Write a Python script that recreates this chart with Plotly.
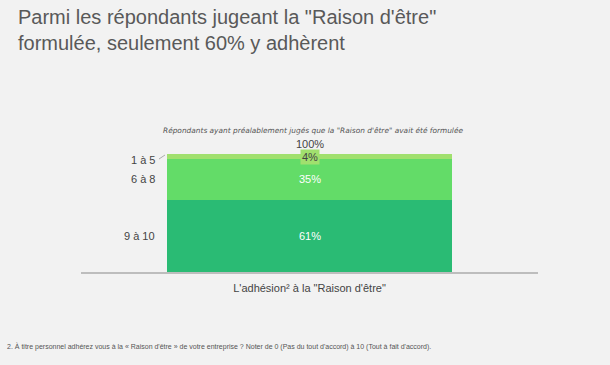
import plotly.graph_objects as go

# ---- data ----
category = ["L'adhésion² à la \"Raison d'être\""]
segments = ["9 à 10", "6 à 8", "1 à 5"]
values = [61, 35, 4]
colors = ["#2abb74", "#63dc68", "#a1e06e"]
total_label = "100%"

title_lines = ["Parmi les répondants jugeant la \"Raison d'être\"",
               "formulée, seulement 60% y adhèrent"]
subtitle = "Répondants ayant préalablement jugés que la \"Raison d'être\" avait été formulée"
footnote = ("2. À titre personnel adhérez vous à la « Raison d'être » de votre entreprise ? "
            "Noter de 0 (Pas du tout d'accord) à 10 (Tout à fait d'accord).")

BG = "#f2f2f2"
FONT = "Liberation Sans, Arial"
W, H = 610, 365
L, R, T, B = 81, 72, 154, 93
pw, ph = W - L - R, H - T - B
def px(x): return (x - L) / pw
def py(y): return (H - B - y) / ph

fig = go.Figure()
for name, v, c in zip(segments, values, colors):
    fig.add_trace(go.Bar(x=category, y=[v], name=name, marker=dict(color=c, line=dict(width=0)),
                         width=0.624, showlegend=False, hoverinfo="skip"))

cum = 0
for i, (name, v) in enumerate(zip(segments, values)):
    mid = cum + v / 2
    cum += v
    if v >= 10:
        fig.add_annotation(x=category[0], y=mid, xref="x", yref="y", text=f"{v}%", showarrow=False,
                           font=dict(family=FONT, size=11, color="white"))
    else:
        fig.add_annotation(x=category[0], y=mid, xref="x", yref="y", text=f"{v}%", showarrow=False,
                           bgcolor=colors[i], borderpad=1, yshift=-1,
                           font=dict(family=FONT, size=11, color="#444"))
    fig.add_annotation(x=px(157), y=mid, xref="paper", yref="y", text=name, showarrow=False,
                       xanchor="right", yshift=(-4 if v < 10 else 0),
                       font=dict(family=FONT, size=11, color="#444"))
fig.add_annotation(x=category[0], y=cum, xref="x", yref="y", text=total_label, showarrow=False,
                   yanchor="bottom", yshift=2, font=dict(family=FONT, size=11, color="#444"))

for txt, yc in zip(title_lines, [17, 43]):
    fig.add_annotation(x=px(16), y=py(yc), xref="paper", yref="paper", xanchor="left",
                       yanchor="middle", text=txt, showarrow=False,
                       font=dict(family=FONT, size=20, color="#595959"))

fig.add_annotation(x=px(313), y=py(124), xref="paper", yref="paper", showarrow=False,
                   text=f"<i>{subtitle}</i>", font=dict(family="DejaVu Sans", size=7.4, color="#555"))

fig.add_annotation(x=px(5), y=py(352.5), xref="paper", yref="paper", xanchor="left",
                   text=footnote, showarrow=False, font=dict(family=FONT, size=7, color="#555"))

fig.add_shape(type="line", xref="paper", yref="paper",
              x0=px(159), y0=py(159), x1=px(165), y1=py(155),
              line=dict(color="#999", width=0.8))

fig.update_layout(
    width=W, height=H,
    paper_bgcolor=BG, plot_bgcolor=BG,
    margin=dict(l=L, r=R, t=T, b=B, pad=0),
    barmode="stack", bargap=0,
    xaxis=dict(showgrid=False, zeroline=False, showline=True, linecolor="#bdbdbd", linewidth=1.5,
               ticks="", ticklabelstandoff=5,
               tickfont=dict(family=FONT, size=11, color="#444"), fixedrange=True),
    yaxis=dict(range=[0, 100], visible=False, fixedrange=True),
)

fig.write_html("out.html", config={"displayModeBar": False},
               post_script="document.body.style.margin='0';document.body.style.background='#f2f2f2';")
